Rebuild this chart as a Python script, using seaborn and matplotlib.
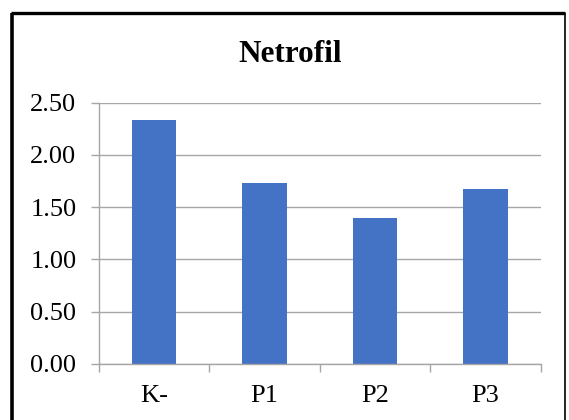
import matplotlib
matplotlib.use("Agg")
import matplotlib.pyplot as plt
from matplotlib.lines import Line2D
from matplotlib.ticker import FixedLocator
import seaborn as sns
import pandas as pd

categories = ["K-", "P1", "P2", "P3"]
values = [2.33, 1.73, 1.40, 1.67]
y_ticks = [0.0, 0.5, 1.0, 1.5, 2.0, 2.5]
title = "Netrofil"

sns.set_theme(style="white")
plt.rcParams["font.family"] = ["Liberation Serif", "DejaVu Serif"]

df = pd.DataFrame({"group": categories, "value": values})

W, H = 569, 420
fig = plt.figure(figsize=(W / 100, H / 100), dpi=100)
fig.patch.set_facecolor("white")

left, right, top, bottom = 98.7, 540.7, 102.7, 364.0
ax = fig.add_axes([left / W, 1 - bottom / H, (right - left) / W, (bottom - top) / H])

sns.barplot(data=df, x="group", y="value", color="#4472C4", width=0.4,
            saturation=1, ax=ax, edgecolor="none")

ax.set_xlim(-0.5, 3.5)
ax.set_ylim(0, 2.5)
ax.set_yticks(y_ticks)
ax.set_yticklabels([f"{v:.2f}" for v in y_ticks])
ax.set_xlabel("")
ax.set_ylabel("")

grid_c = "#A6A6A6"
ax.yaxis.grid(True, color=grid_c, linewidth=1.0)
ax.set_axisbelow(True)
for s in ["top", "right"]:
    ax.spines[s].set_visible(False)
for s in ["left", "bottom"]:
    ax.spines[s].set_color(grid_c)
    ax.spines[s].set_linewidth(1.0)

ax.xaxis.set_minor_locator(FixedLocator([-0.5, 0.5, 1.5, 2.5, 3.5]))
ax.tick_params(axis="x", which="major", length=0, pad=15, labelsize=19, colors="black")
ax.tick_params(axis="x", which="minor", bottom=True, length=6, width=1.0, color=grid_c, direction="out")
ax.tick_params(axis="y", which="major", left=True, length=6, width=1.0, color=grid_c,
               direction="out", pad=10, labelsize=19, labelcolor="black")

fig.text(290 / W, 1 - 55 / H, title, ha="center", va="center",
         fontsize=22.5, fontweight="bold", color="black")

# outer frame
fig.add_artist(Line2D([12 / W, 12 / W], [0, 1 - 13 / H], color="black", linewidth=2.6,
                      transform=fig.transFigure, solid_capstyle="butt"))
fig.add_artist(Line2D([10.5 / W, 565 / W], [1 - 13 / H, 1 - 13 / H], color="black", linewidth=2.4,
                      transform=fig.transFigure, solid_capstyle="butt"))
fig.add_artist(Line2D([565 / W, 565 / W], [0, 1 - 13 / H], color="black", linewidth=1.2,
                      transform=fig.transFigure, solid_capstyle="butt"))

fig.savefig("out.png", dpi=100)
